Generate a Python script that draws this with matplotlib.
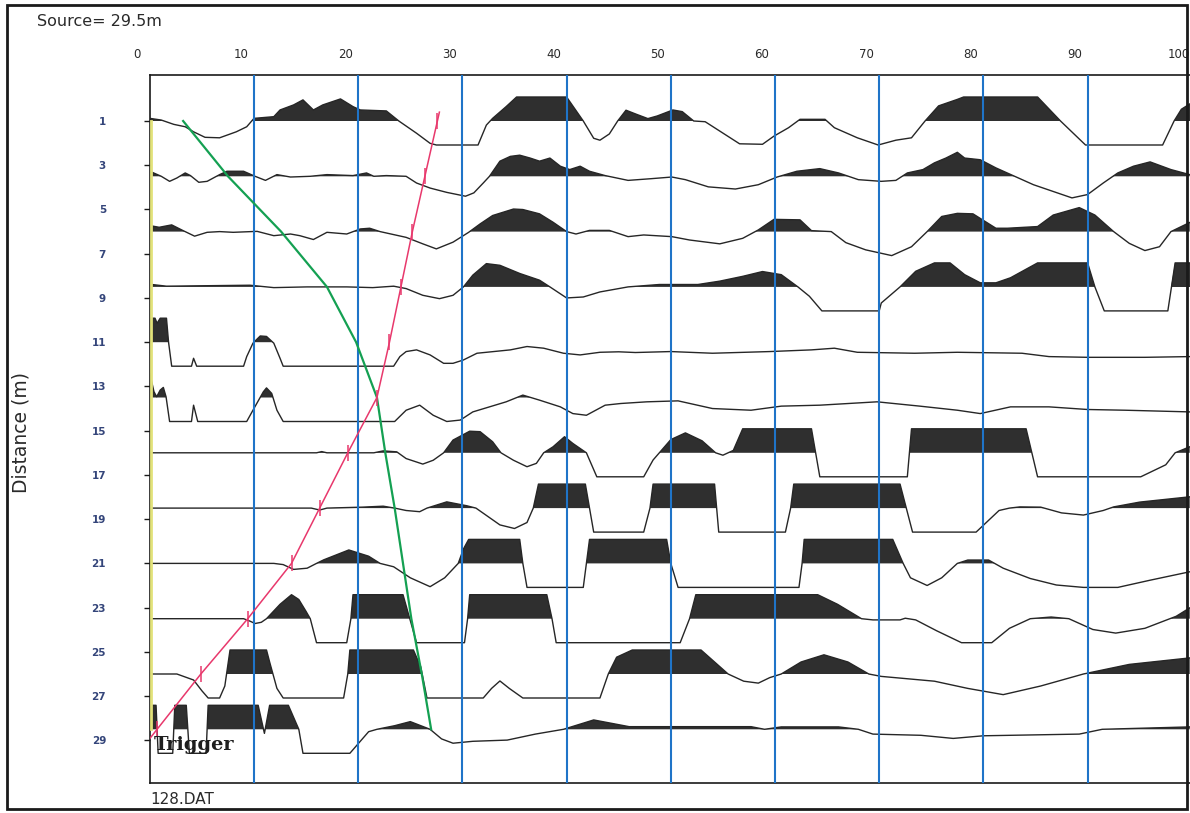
import numpy as np
import matplotlib
matplotlib.use("Agg")
import matplotlib.pyplot as plt
from matplotlib.patches import Rectangle
from matplotlib.transforms import ScaledTranslation, blended_transform_factory

# ---------------------------------------------------------------- data
# receiver distances (m) of the 12 traces
distances = [1.0, 3.5, 6.0, 8.5, 11.0, 13.5, 16.0, 18.5, 21.0, 23.5, 26.0, 28.5]

# trace samples: (time in ms, normalised amplitude, +-1 = clip level)
trace_01 = [(0, 0.11), (1.1, 0.04), (2.3, -0.14), (3.4, -0.24), (4.2, -0.45), (5.3, -0.68), (6.7, -0.70),
            (8.3, -0.45), (9.3, -0.24), (10.0, 0.11), (11.9, 0.18), (12.5, 0.46), (13.8, 0.67), (14.7, 0.88),
            (15.7, 0.46), (16.6, 0.67), (18.3, 0.92), (19.5, 0.60), (20.2, 0.46), (22.7, 0.42), (23.9, 0),
            (25.6, -0.51), (26.9, -0.93), (27.5, -1), (31.5, -1), (32.3, -0.17), (32.9, 0.11), (34.2, 0.60),
            (35.2, 1), (40.0, 1), (41.6, 0), (42.6, -0.72), (43.2, -0.8), (44.1, -0.54), (44.9, 0),
            (45.7, 0.45), (46.7, 0.28), (47.8, 0.1), (48.7, 0.21), (50.2, 0.46), (51.1, 0.39), (52.2, 0),
            (53.3, -0.03), (54.7, -0.42), (56.6, -0.95), (58.8, -0.97), (59.9, -0.63), (61.3, -0.28),
            (62.4, 0.07), (64.8, 0.07), (65.7, -0.28), (67.9, -0.7), (69.9, -1), (71.6, -0.8), (73.1, -0.7),
            (74.4, 0), (75.7, 0.63), (77.5, 0.9), (78.1, 1), (85.2, 1), (87.4, 0), (89.8, -1), (97.2, -1),
            (98.3, 0), (99.0, 0.49), (100.5, 0.9)]

trace_02 = [(0, 0.21), (1.1, 0), (1.9, -0.21), (2.6, -0.07), (3.4, 0.14), (3.9, 0.03), (4.7, -0.25),
            (5.5, -0.21), (6.7, 0.07), (7.4, 0.21), (9.0, 0.21), (10.1, 0), (11.1, -0.17), (12.2, 0.07),
            (13.5, -0.03), (15.4, 0), (17.0, 0.07), (19.5, 0.03), (20.8, 0.14), (21.5, 0), (22.7, 0.03),
            (24.6, 0), (25.6, -0.28), (26.9, -0.49), (28.5, -0.67), (30.3, -0.83), (31.1, -0.69),
            (32.0, -0.28), (32.6, 0), (33.6, 0.63), (34.6, 0.83), (35.5, 0.88), (36.5, 0.76), (37.4, 0.63),
            (38.4, 0.76), (39.4, 0.42), (40.3, 0.28), (41.3, 0.42), (42.2, 0.21), (43.7, 0.03),
            (45.9, -0.17), (48.1, -0.1), (50.1, -0.03), (51.4, -0.14), (53.6, -0.44), (56.2, -0.53),
            (58.4, -0.35), (60.2, -0.03), (62.1, 0.21), (64.3, 0.32), (66.1, 0.14), (68.0, -0.14),
            (70.2, -0.21), (71.6, -0.17), (72.7, 0.14), (74.2, 0.28), (75.3, 0.56), (76.4, 0.76),
            (77.5, 1.0), (78.2, 0.76), (79.7, 0.69), (81.2, 0.35), (83.0, 0), (84.8, -0.35), (88.5, -0.9),
            (90.0, -0.76), (91.5, -0.28), (92.9, 0.14), (94.4, 0.42), (96.0, 0.6), (98.0, 0.28),
            (99.8, 0.07)]

trace_03 = [(0, 0.25), (0.9, 0.18), (2.1, 0.28), (3.2, 0.04), (4.3, -0.19), (5.5, -0.03), (6.7, 0),
            (8.0, -0.03), (10.3, 0.01), (11.9, -0.17), (13.5, -0.1), (14.4, -0.17), (15.7, -0.33),
            (17.0, -0.03), (18.9, -0.1), (20.2, 0.11), (21.1, 0.14), (22.1, 0), (24.6, -0.24),
            (26.2, -0.51), (27.5, -0.72), (29.1, -0.44), (30.6, -0.03), (31.7, 0.32), (32.9, 0.67),
            (34.9, 0.94), (35.8, 0.92), (37.4, 0.74), (38.7, 0.39), (40.0, 0), (40.9, -0.1), (42.2, 0.05),
            (44.1, 0.05), (45.9, -0.21), (47.4, -0.14), (50.1, -0.21), (51.8, -0.35), (54.7, -0.51),
            (56.9, -0.28), (58.4, 0.07), (59.9, 0.51), (62.4, 0.49), (63.5, 0.04), (65.4, 0),
            (66.8, -0.46), (68.7, -0.76), (71.2, -1.0), (73.1, -0.63), (74.6, 0), (76.0, 0.63),
            (77.5, 0.76), (79.0, 0.74), (81.2, 0.14), (82.3, 0.14), (85.2, 0.21), (86.7, 0.69),
            (89.2, 1.0), (90.7, 0.69), (92.5, 0), (94.0, -0.49), (95.5, -0.79), (96.9, -0.63), (98.0, 0),
            (99.8, 0.38)]

trace_04 = [(0, 0.11), (1.6, 0.03), (9.6, 0.07), (11.9, -0.03), (15.1, 0), (18.9, 0), (21.4, -0.03),
            (23.4, 0.03), (24.6, -0.07), (26.2, -0.35), (27.8, -0.49), (29.1, -0.35), (30.1, 0),
            (31.0, 0.49), (32.3, 0.97), (33.6, 0.9), (35.5, 0.56), (37.4, 0.28), (38.4, 0), (40.0, -0.46),
            (41.6, -0.42), (43.2, -0.21), (45.9, 0), (48.9, 0.1), (52.6, 0.1), (54.7, 0.24), (56.9, 0.44),
            (58.8, 0.64), (60.6, 0.51), (62.2, 0), (63.3, -0.39), (64.5, -1), (70.0, -1), (70.2, -0.67),
            (72.0, 0), (73.5, 0.65), (75.3, 1.0), (76.8, 1.0), (78.2, 0.51), (79.7, 0.17), (81.2, 0.17),
            (82.6, 0.38), (85.2, 1), (90.0, 1), (90.7, 0), (91.6, -1), (97.7, -1), (98.4, 1), (99.8, 1)]

trace_05 = [(0, 1), (0.5, 1), (0.7, 0.79), (1.0, 1), (1.6, 1), (1.8, 0), (2.1, -1), (4.0, -1),
            (4.2, -0.67), (4.5, -1), (9.0, -1), (9.3, -0.6), (9.9, -0.04), (10.6, 0.26), (11.2, 0.24),
            (11.9, -0.04), (12.5, -0.67), (12.8, -1), (23.4, -1), (24.0, -0.6), (24.6, -0.39),
            (25.6, -0.32), (26.9, -0.53), (28.2, -0.88), (29.1, -0.88), (30.1, -0.74), (31.4, -0.46),
            (33.0, -0.39), (34.6, -0.32), (36.2, -0.18), (37.8, -0.25), (39.7, -0.46), (41.3, -0.53),
            (43.2, -0.42), (45.0, -0.4), (46.6, -0.43), (50.0, -0.39), (54.0, -0.46), (59.5, -0.39),
            (63.5, -0.32), (65.7, -0.25), (67.9, -0.42), (73.4, -0.46), (77.5, -0.42), (83.7, -0.46),
            (86.3, -0.6), (90.0, -0.63), (95.5, -0.63), (99.8, -0.6)]

trace_06 = [(0, 1), (0.4, 0.24), (0.66, 0.03), (1.0, 0.31), (1.3, 0.42), (1.56, 0.03), (1.9, -1),
            (4.0, -1), (4.2, -0.32), (4.6, -1), (9.3, -1), (9.9, -0.53), (10.9, 0.24), (11.2, 0.4),
            (11.7, 0.17), (12.2, -0.53), (12.8, -1), (23.5, -1), (24.6, -0.53), (25.9, -0.32),
            (27.2, -0.74), (28.5, -1), (29.8, -0.94), (31.0, -0.6), (32.6, -0.39), (34.2, -0.18),
            (35.8, 0.1), (37.4, -0.11), (39.4, -0.39), (40.6, -0.67), (41.9, -0.74), (43.7, -0.32),
            (45.2, -0.25), (47.7, -0.18), (50.7, -0.14), (54.0, -0.46), (57.7, -0.53), (60.6, -0.36),
            (64.3, -0.32), (69.8, -0.18), (73.9, -0.36), (77.5, -0.53), (79.7, -0.67), (82.6, -0.39),
            (86.3, -0.39), (90.0, -0.5), (93.6, -0.53), (99.8, -0.6)]

trace_07 = [(0, 0), (16.0, 0), (16.5, 0.05), (17.0, 0), (21.5, 0), (22.4, 0.08), (23.7, 0.04),
            (24.6, -0.24), (26.2, -0.47), (27.2, -0.31), (28.2, 0), (29.1, 0.53), (30.7, 0.9),
            (31.7, 0.88), (32.9, 0.46), (33.7, 0), (34.9, -0.31), (36.2, -0.58), (37.1, -0.44),
            (37.8, 0), (38.7, 0.25), (39.8, 0.67), (40.6, 0.39), (41.9, 0), (42.9, -1), (47.4, -1),
            (48.3, -0.3), (48.9, 0), (50.0, 0.55), (51.4, 0.83), (53.0, 0.5), (54.3, 0), (55.0, -0.1),
            (56.0, 0.1), (56.9, 1), (63.5, 1), (64.3, -1), (72.7, -1), (73.1, 1), (84.1, 1), (85.2, -1),
            (95.1, -1), (97.5, -0.5), (98.4, 0), (99.8, 0.25)]

trace_08 = [(0, 0), (15.5, 0), (16.3, -0.08), (17.0, 0), (20.4, 0.04), (22.4, 0.08), (23.5, 0),
            (24.6, -0.1), (25.9, -0.15), (26.6, 0), (28.5, 0.26), (30.4, 0.1), (31.3, 0), (33.6, -0.7),
            (35.0, -0.85), (36.2, -0.6), (36.8, 0), (37.3, 1), (41.8, 1), (42.6, -1), (47.4, -1),
            (48.0, 0), (48.3, 1), (54.2, 1), (54.6, -1), (61.0, -1), (61.5, 0), (61.8, 1), (72.0, 1),
            (73.2, -1), (79.3, -1), (81.5, -0.1), (82.5, 0), (83.5, 0.05), (85.5, 0.04), (87.5, -0.2),
            (89.6, -0.29), (91.5, -0.1), (92.5, 0.05), (95.0, 0.25), (99.8, 0.47)]

trace_09 = [(0, 0), (11.9, 0), (12.8, -0.05), (13.8, -0.25), (15.1, -0.2), (16.0, 0), (16.7, 0.15),
            (19.1, 0.56), (21.0, 0.3), (22.1, 0), (23.4, -0.14), (25.0, -0.6), (26.9, -0.97),
            (28.3, -0.6), (29.6, 0), (30.1, 0.6), (30.6, 1), (35.5, 1), (35.8, 0), (36.2, -1),
            (41.6, -1), (41.9, 0), (42.2, 1), (49.6, 1), (50.0, 0), (50.7, -1), (62.3, -1), (62.6, 0),
            (62.8, 1), (71.3, 1), (72.3, 0), (73.0, -0.6), (74.6, -0.92), (76.0, -0.6), (77.5, 0),
            (78.5, 0.14), (80.5, 0.14), (81.9, -0.2), (84.5, -0.63), (87.0, -0.9), (89.6, -1),
            (92.9, -1), (96.0, -0.7), (99.8, -0.35)]

trace_10 = [(0, 0), (9.0, 0), (9.6, -0.1), (10.1, -0.2), (10.7, -0.15), (11.2, 0), (12.5, 0.6),
            (13.6, 1), (14.3, 0.8), (15.0, 0.3), (15.4, 0), (16.0, -1), (18.9, -1), (19.3, 0), (19.5, 1),
            (24.3, 1), (25.6, -1), (30.2, -1), (30.5, 0), (30.7, 1), (38.1, 1), (38.6, 0), (39.0, -1),
            (50.9, -1), (51.8, 0), (52.4, 1), (64.1, 1), (66.0, 0.6), (68.3, 0), (69.4, -0.05),
            (72.0, -0.05), (72.5, 0.02), (73.5, -0.05), (75.5, -0.5), (77.9, -1), (80.8, -1),
            (82.5, -0.4), (84.5, 0), (86.5, 0.07), (88.2, 0), (90.5, -0.45), (92.7, -0.6), (95.5, -0.4),
            (98.5, 0.1), (99.8, 0.45)]

trace_11 = [(0, 0), (2.6, 0), (4.2, -0.25), (5.0, -0.7), (5.6, -1), (6.7, -1), (7.2, -0.5), (7.7, 1),
            (11.2, 1), (11.5, 0.5), (12.2, -0.6), (12.8, -1), (18.6, -1), (19.0, 0), (19.2, 1),
            (25.3, 1), (26.0, 0.3), (26.6, -1), (32.0, -1), (32.8, -0.6), (33.6, -0.29), (34.5, -0.6),
            (35.8, -1), (43.2, -1), (44.0, 0), (44.8, 0.7), (46.3, 1), (52.9, 1), (54.2, 0.5), (55.5, 0),
            (57.0, -0.3), (58.4, -0.38), (59.5, -0.15), (60.6, 0), (62.5, 0.5), (64.7, 0.8), (67.0, 0.5),
            (69.0, 0), (70.2, -0.1), (75.3, -0.3), (78.5, -0.6), (81.9, -0.86), (85.5, -0.5), (89.6, 0),
            (94.0, 0.4), (99.8, 0.67)]

trace_12 = [(0, 1), (0.6, 1), (0.8, -1), (2.2, -1), (2.4, 1), (3.5, 1), (3.8, -1), (5.4, -1), (5.6, 1),
            (10.4, 1), (11.0, -0.17), (11.5, 1), (13.3, 1), (14.3, 0), (14.7, -1), (19.2, -1),
            (21.0, -0.1), (21.8, 0), (23.5, 0.15), (25.0, 0.32), (26.9, 0), (28.0, -0.4), (29.1, -0.58),
            (31.0, -0.5), (34.3, -0.45), (37.0, -0.2), (39.7, 0), (42.6, 0.39), (46.0, 0.11),
            (57.7, 0.11), (59.0, 0), (60.6, 0.1), (66.1, 0.1), (68.0, 0), (69.4, -0.2), (74.0, -0.25),
            (77.1, -0.38), (80.0, -0.27), (89.2, -0.2), (91.4, 0), (99.8, 0.1)]

traces = [trace_01, trace_02, trace_03, trace_04, trace_05, trace_06,
          trace_07, trace_08, trace_09, trace_10, trace_11, trace_12]

# picked first-arrival times (ms) per trace, and the fitted curve
pick_times = [27.6, 26.4, 25.2, 24.1, 23.0, 21.8, 19.0, 16.3, 13.6, 9.4, 4.9, 0.7]
curve_times = [3.2, 7.5, 12.6, 17.0, 19.8, 21.8, 22.6, 23.5, 24.3, 25.1, 26.1, 27.0]

time_ticks = [0, 10, 20, 30, 40, 50, 60, 70, 80, 90, 100]
grid_times = [10, 20, 30, 40, 50, 60, 70, 80, 90]
distance_ticks = [1, 3, 5, 7, 9, 11, 13, 15, 17, 19, 21, 23, 25, 27, 29]

source_label = "Source= 29.5m"
file_label = "128.DAT"

# ---------------------------------------------------------------- figure
W, H = 1190, 813
fig = plt.figure(figsize=(W / 100, H / 100), dpi=100)
fig.patch.set_facecolor("white")

# plot box in pixels
left_px, top_px, bottom_px = 149.8, 75, 783
px_per_ms = 10.42
px_per_m = 22.12
ax = fig.add_axes([left_px / W, 1 - bottom_px / H, (W - left_px) / W, (bottom_px - top_px) / H])
ax.set_xlim(0, (W - left_px) / px_per_ms)
d_top = distances[0] - (121 - top_px) / px_per_m
d_bot = distances[0] + (bottom_px - 121) / px_per_m
ax.set_ylim(d_bot, d_top)

for side in ["left", "top", "bottom"]:
    ax.spines[side].set_linewidth(1.2)
    ax.spines[side].set_color("#1a1a1a")
ax.spines["right"].set_visible(False)

gain = 24 / px_per_m  # clip level in metres of offset
fill_col = "#2f2f2f"
line_col = "#262626"

for d, tr in zip(distances, traces):
    t = np.array([p[0] for p in tr])
    a = np.clip(np.array([p[1] for p in tr]), -1, 1)
    y = d - a * gain
    ax.fill_between(t, d, y, where=(y <= d), interpolate=True, color=fill_col, lw=0, zorder=2)
    ax.plot(t, y, color=line_col, lw=1.0, zorder=3)

# time grid
for g in grid_times:
    ax.axvline(g, color="#1f74c8", lw=1.5, zorder=4)

# trigger line
ax.plot([0.12, 0.12], [distances[0], distances[-1]], color="#e2e27a", lw=2.0, zorder=5, clip_on=False)

# fitted arrival curve
ax.plot(curve_times, distances, color="#14a052", lw=1.6, zorder=6)

# picked arrivals, extended slightly past the outer traces
pt = np.array(pick_times)
dd = np.array(distances)
ext = 0.4
t_top = pt[0] + (pt[0] - pt[1]) / (dd[1] - dd[0]) * ext
t_bot = pt[-1] + (pt[-1] - pt[-2]) / (dd[-1] - dd[-2]) * ext
ax.plot(np.r_[t_top, pt, t_bot], np.r_[dd[0] - ext, dd, dd[-1] + ext], color="#e8386c", lw=1.1, zorder=7)
ax.plot(pt, dd, linestyle="none", marker="|", markersize=11, markeredgewidth=1.1,
        color="#e8386c", zorder=7)

# axes ticks
ax.set_xticks([])
ax.set_yticks(distance_ticks)
ax.set_yticklabels([str(v) for v in distance_ticks], fontsize=7.5, fontweight="bold", color="#34457a")
ax.tick_params(axis="y", direction="out", length=4, width=1, pad=27.5, colors="#1a1a1a",
               labelcolor="#34457a")

# time labels above the box, drawn a little left of their grid lines
tr_lab = blended_transform_factory(ax.transData, fig.transFigure) + \
    ScaledTranslation(-13 / 100, 0, fig.dpi_scale_trans)
for tv in time_ticks:
    ax.text(tv, 1 - 55 / H, str(tv), transform=tr_lab, ha="center", va="center",
            fontsize=8.5, color="#2a2a2a", clip_on=False)

ax.set_ylabel("Distance (m)", fontsize=13.5, color="#2a2a2a")
ax.yaxis.set_label_coords(31 / W, 1 - 432 / H, transform=fig.transFigure)

ax.text(0.4, d_bot - (bottom_px - 745) / px_per_m, "Trigger", fontsize=14, fontweight="bold",
        family="DejaVu Serif", color="#1e1e1e", ha="left", va="center", zorder=8)

fig.text(37 / W, 1 - 22 / H, source_label, fontsize=11.5, color="#2a2a2a", ha="left", va="center")
fig.text(150 / W, 1 - 799 / H, file_label, fontsize=11, color="#2a2a2a", ha="left", va="center")

# outer frame
fig.patches.append(Rectangle((7 / W, 1 - 809 / H), (1187 - 7) / W, (809 - 5) / H,
                             transform=fig.transFigure, fill=False, lw=2.0, edgecolor="#1a1a1a"))

fig.savefig("out.png", dpi=100)
